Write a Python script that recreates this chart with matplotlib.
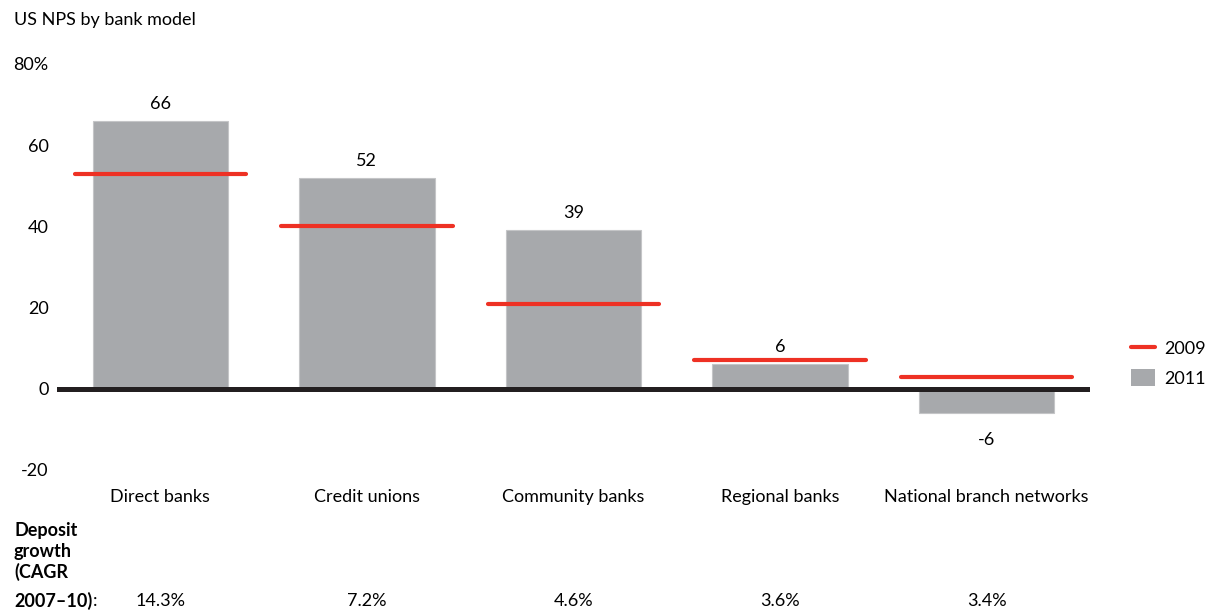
import numpy as np
import matplotlib.pyplot as plt
from matplotlib.lines import Line2D
from matplotlib.patches import Patch

plt.rcParams['font.family'] = ['Lato', 'DejaVu Sans']

# NPS by bank model
banks = ['Direct banks', 'Credit unions', 'Community banks', 'Regional banks', 'National branch networks']
nps_2011 = [66, 52, 39, 6, -6]
nps_2009 = [53, 40, 21, 7, 3]
growth = ['14.3%', '7.2%', '4.6%', '3.6%', '3.4%']
yticks = [-20, 0, 20, 40, 60, 80]
ytick_labels = ['-20', '0', '20', '40', '60', '80%']

grey = '#a7a9ac'
red = '#ee3124'
fs = 13

fig = plt.figure(figsize=(12.09, 6.11), dpi=100)
ax = fig.add_axes([57/1209, 1-470/611, (1090-57)/1209, (470-64)/611])

x = np.arange(len(banks))
ax.bar(x, nps_2011, width=0.655, color=grey, edgecolor='#c4c5c7', linewidth=0.8, zorder=2)
ax.hlines(nps_2009, x-0.415, x+0.415, color=red, linewidth=3, capstyle='round', zorder=3)
ax.axhline(0, color='#231f20', linewidth=3.6, zorder=4)

# value labels for 2011
for xi, v in zip(x, nps_2011):
    if v >= 0:
        ax.text(xi, v+4.2, str(v), ha='center', va='center', fontsize=fs)
    else:
        ax.text(xi, v-6.5, str(v), ha='center', va='center', fontsize=fs)

ax.set_xlim(-0.5, 4.5)
ax.set_ylim(-20, 80)
ax.set_yticks(yticks)
ax.set_yticklabels(ytick_labels, fontsize=fs)
ax.set_xticks(x)
ax.set_xticklabels(banks, fontsize=fs)
ax.tick_params(axis='both', length=0)
ax.tick_params(axis='x', pad=14)
ax.tick_params(axis='y', pad=6)
for s in ax.spines.values():
    s.set_visible(False)

fig.text(14/1209, 1-20/611, 'US NPS by bank model', fontsize=fs, va='center', ha='left')

handles = [Line2D([0], [0], color=red, linewidth=3, solid_capstyle='round'),
           Patch(facecolor=grey, edgecolor='none')]
fig.legend(handles, ['2009', '2011'], loc='upper left', bbox_to_anchor=(1115/1209, 1-323/611),
           frameon=False, fontsize=fs, handlelength=1.3, handleheight=1.05,
           handletextpad=0.55, labelspacing=0.7)

# deposit growth row
fig.text(14/1209, 1-522/611, 'Deposit\ngrowth\n(CAGR', fontsize=fs,
         fontweight='bold', ha='left', va='top', linespacing=1.25)
last = fig.text(14/1209, 1-601/611, '2007\u201310)', fontsize=fs,
                fontweight='bold', ha='left', va='center')
ax.annotate(':', xy=(1, 0.5), xycoords=last, xytext=(0.5, 0), textcoords='offset points',
            fontsize=fs, ha='left', va='center')
for xi, g in zip(x, growth):
    fig.text(ax.transData.transform((xi, 0))[0]/fig.bbox.width, 1-601/611, g,
             fontsize=fs, ha='center', va='center')

fig.savefig('out.png', dpi=100)
